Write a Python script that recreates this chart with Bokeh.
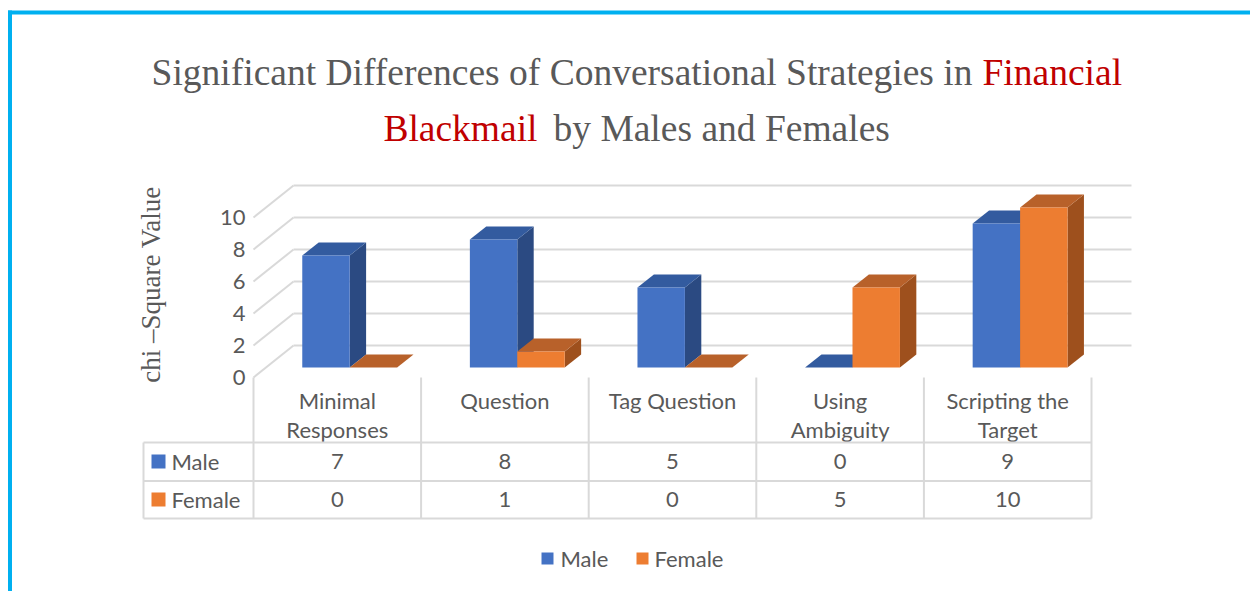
from bokeh.plotting import figure
from bokeh.models import Range1d
from bokeh.embed import file_html
from bokeh.resources import INLINE
from bokeh.core.properties import value

# ---------------- data ----------------
categories = ["Minimal Responses", "Question", "Tag Question", "Using Ambiguity", "Scripting the Target"]
cat_line1 = ["Minimal", "Question", "Tag Question", "Using", "Scripting the"]
cat_line2 = ["Responses", "", "", "Ambiguity", "Target"]
series_names = ["Male", "Female"]
male = [7, 8, 5, 0, 9]
female = [0, 1, 0, 5, 10]
y_ticks = [0, 2, 4, 6, 8, 10]

# ---------------- styles ----------------
FRONT = ["#4472C4", "#ED7D31"]
TOP = ["#335B9F", "#B8612A"]
SIDE = ["#2B4A82", "#9E501D"]
GRID = "#D9D9D9"
TXT = "#595959"
RED = "#C00000"
SANS = value("Lato")
SERIF = value("Liberation Serif")
SANS_SIZE = "22px"
TITLE_SIZE = "37.5px"

W, H = 1250, 591
M = 0
COL_W = 167.6      # px per category
X0 = 253.0         # page x of first category edge
Y0 = 377.0         # page y of value 0 (front plane)
UNIT = 16.0        # px per value unit


def dx(sx):
    return (sx - X0) / COL_W


def dy(sy):
    return (Y0 - sy) / UNIT


p = figure(width=W, height=H, x_range=Range1d(dx(M), dx(M + W)),
           y_range=Range1d(dy(M + H), dy(M)), min_border=0,
           x_axis_location=None, y_axis_location=None,
           toolbar_location=None, output_backend="svg")
p.grid.visible = False
p.outline_line_color = None
p.background_fill_color = "white"
p.border_fill_color = "white"

n = len(categories)
DX = 40.0 / COL_W   # depth offset (x) for full depth
DY = 32.0 / UNIT    # depth offset (y) for full depth
DF, DB = 0.31, 0.72  # bar front / back depth
BW = 0.283           # bar width per series

# ---------------- walls / gridlines ----------------
gx, gy = [], []
for t in y_ticks:
    gx.append([DX, n + DX]); gy.append([t + DY, t + DY])
    gx.append([0, DX]); gy.append([t, t + DY])
p.multi_line(gx, gy, line_color=GRID, line_width=2)

# ---------------- bars ----------------
for s, vals in enumerate([male, female]):
    fl, fr, fb, ft = [], [], [], []
    txs, tys, sxs, sys_ = [], [], [], []
    for i, h in enumerate(vals):
        x0 = i + 0.5 - BW + s * BW
        x1 = x0 + BW
        if h > 0:
            fl.append(x0 + DX * DF); fr.append(x1 + DX * DF)
            fb.append(DY * DF); ft.append(h + DY * DF)
            sxs.append([x1 + DX * DF, x1 + DX * DB, x1 + DX * DB, x1 + DX * DF])
            sys_.append([DY * DF, DY * DB, h + DY * DB, h + DY * DF])
        txs.append([x0 + DX * DF, x1 + DX * DF, x1 + DX * DB, x0 + DX * DB])
        tys.append([h + DY * DF, h + DY * DF, h + DY * DB, h + DY * DB])
    p.patches(sxs, sys_, fill_color=SIDE[s], line_color=None)
    p.patches(txs, tys, fill_color=TOP[s], line_color=None)
    p.quad(left=fl, right=fr, bottom=fb, top=ft, fill_color=FRONT[s], line_color=None)

# ---------------- y tick labels ----------------
p.text(x=[dx(245)] * len(y_ticks), y=y_ticks, text=[str(t) for t in y_ticks],
       text_align="right", text_baseline="middle", text_font=SANS,
       text_font_size=SANS_SIZE, text_color=TXT)

# y title
p.text(x=[dx(150)], y=[dy(284)], text=["chi \u2013Square Value"], angle=1.5707963,
       text_align="center", text_baseline="middle", text_font=SERIF,
       text_font_size="27px", text_color=TXT)

# ---------------- data table ----------------
cx = [i + 0.5 for i in range(n)]
p.text(x=cx, y=[dy(400)] * n, text=cat_line1, text_align="center", text_baseline="middle",
       text_font=SANS, text_font_size=SANS_SIZE, text_color=TXT)
p.text(x=cx, y=[dy(429)] * n, text=cat_line2, text_align="center", text_baseline="middle",
       text_font=SANS, text_font_size=SANS_SIZE, text_color=TXT)

lx, ly = [], []
for sy in (442, 480.5, 518):
    lx.append([dx(143), n]); ly.append([dy(sy), dy(sy)])
lx.append([dx(143), dx(143)]); ly.append([dy(442), dy(518)])
for i in range(n + 1):
    lx.append([i, i]); ly.append([0, dy(518)])
p.multi_line(lx, ly, line_color=GRID, line_width=2)

row_y = [dy(461), dy(499)]
for s, vals in enumerate([male, female]):
    p.scatter(x=[dx(158)], y=[row_y[s]], marker="square", size=14,
              fill_color=FRONT[s], line_color=None)
    p.text(x=[dx(171)], y=[row_y[s]], text=[series_names[s]], text_align="left",
           text_baseline="middle", text_font=SANS, text_font_size=SANS_SIZE, text_color=TXT)
    p.text(x=cx, y=[row_y[s]] * n, text=[str(v) for v in vals], text_align="center",
           text_baseline="middle", text_font=SANS, text_font_size=SANS_SIZE, text_color=TXT)

# ---------------- legend ----------------
leg_sq = [547, 642]
leg_tx = [560, 654]
for s in range(2):
    p.scatter(x=[dx(leg_sq[s])], y=[dy(558)], marker="square", size=12,
              fill_color=FRONT[s], line_color=None)
    p.text(x=[dx(leg_tx[s])], y=[dy(558)], text=[series_names[s]], text_align="left",
           text_baseline="middle", text_font=SANS, text_font_size=SANS_SIZE, text_color=TXT)

# ---------------- title ----------------
T1, T2 = 72, 128
p.text(x=[dx(972)], y=[dy(T1)], text=["Significant Differences of Conversational Strategies in"],
       text_align="right", text_baseline="middle", text_font=SERIF,
       text_font_size=TITLE_SIZE, text_color=TXT)
p.text(x=[dx(982)], y=[dy(T1)], text=["Financial"], text_align="left",
       text_baseline="middle", text_font=SERIF, text_font_size=TITLE_SIZE, text_color=RED)
p.text(x=[dx(537)], y=[dy(T2)], text=["Blackmail"], text_align="right",
       text_baseline="middle", text_font=SERIF, text_font_size=TITLE_SIZE, text_color=RED)
p.text(x=[dx(553)], y=[dy(T2)], text=["by Males and Females"], text_align="left",
       text_baseline="middle", text_font=SERIF, text_font_size=TITLE_SIZE, text_color=TXT)

# ---------------- frame border ----------------
p.line(x=[dx(9.5), dx(9.5)], y=[dy(10), dy(600)], line_color="#00B0F0", line_width=4)
p.line(x=[dx(7.5), dx(1260)], y=[dy(12), dy(12)], line_color="#00B0F0", line_width=4)

open("out.html", "w").write(file_html(p, INLINE))
